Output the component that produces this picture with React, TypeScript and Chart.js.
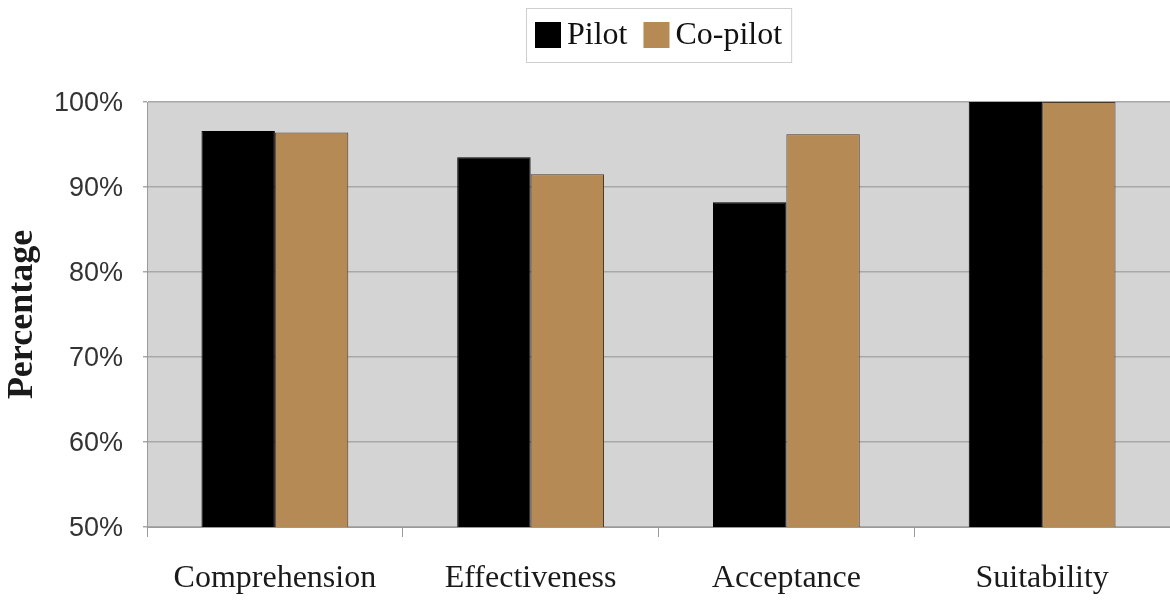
import React, { useEffect, useRef } from "react";
import { Chart, registerables } from "chart.js";

Chart.register(...registerables);

// Survey categories and the share of positive answers per crew role
const categories = ["Comprehension", "Effectiveness", "Acceptance", "Suitability"];
const pilotValues = [96.6, 93.5, 88.2, 100];
const copilotValues = [96.4, 91.5, 96.2, 100];
const seriesNames = ["Pilot", "Co-pilot"];
const yTicks = [50, 60, 70, 80, 90, 100];

const PILOT_COLOR = "#000000";
const COPILOT_COLOR = "#b58a55";
const SERIF = "'Liberation Serif', 'Times New Roman', serif";
const SANS = "'Liberation Sans', Arial, sans-serif";

// Grey plotting area behind the bars
const plotBackground = {
  id: "plotBackground",
  beforeDraw(chart: any) {
    const { ctx, chartArea } = chart;
    ctx.save();
    ctx.fillStyle = "#d4d4d4";
    ctx.fillRect(chartArea.left, chartArea.top, chartArea.right - chartArea.left, chartArea.bottom - chartArea.top);
    ctx.restore();
  },
};

// Framed legend centred above the plotting area
const framedLegend = {
  id: "framedLegend",
  afterDraw(chart: any) {
    const { ctx, chartArea } = chart;
    const box = 26;
    const gap = 6;
    const itemGap = 16;
    const pad = 9;
    ctx.save();
    ctx.font = `32px ${SERIF}`;
    const items = chart.data.datasets.map((ds: any) => ({
      label: ds.label,
      color: ds.backgroundColor,
      w: ctx.measureText(ds.label).width,
    }));
    const total =
      pad * 2 +
      items.reduce((s: number, it: any) => s + box + gap + it.w, 0) +
      itemGap * (items.length - 1);
    const cx = (chartArea.left + chartArea.right) / 2;
    const left = Math.round(cx - total / 2);
    const top = 8;
    const height = 54;
    ctx.strokeStyle = "#cfcfcf";
    ctx.lineWidth = 1;
    ctx.strokeRect(left + 0.5, top + 0.5, total, height);
    let x = left + pad;
    const midY = top + height / 2;
    items.forEach((it: any) => {
      ctx.fillStyle = it.color;
      ctx.fillRect(x, midY - box / 2, box, box);
      x += box + gap;
      ctx.fillStyle = "#111111";
      ctx.textBaseline = "middle";
      ctx.textAlign = "left";
      ctx.fillText(it.label, x, midY + 1);
      x += it.w + itemGap;
    });
    ctx.restore();
  },
};

export default function App() {
  const canvasRef = useRef<HTMLCanvasElement | null>(null);

  useEffect(() => {
    if (!canvasRef.current) return;
    const chart = new Chart(canvasRef.current, {
      type: "bar",
      data: {
        labels: categories,
        datasets: [
          {
            label: seriesNames[0],
            data: pilotValues,
            backgroundColor: PILOT_COLOR,
            borderColor: "#000000",
            borderWidth: 1,
            barPercentage: 1,
            categoryPercentage: 0.574,
          },
          {
            label: seriesNames[1],
            data: copilotValues,
            backgroundColor: COPILOT_COLOR,
            borderColor: "#4a3a28",
            borderWidth: 1,
            barPercentage: 1,
            categoryPercentage: 0.574,
          },
        ],
      },
      options: {
        responsive: false,
        animation: false,
        layout: { padding: { top: 102, left: 0, right: 0, bottom: 0 } },
        plugins: {
          legend: { display: false },
          tooltip: { enabled: false },
        },
        scales: {
          x: {
            grid: {
              display: true,
              drawOnChartArea: false,
              drawTicks: true,
              tickLength: 10,
              color: "#9a9a9a",
              offset: true,
            },
            border: { display: true, color: "#9a9a9a", width: 1 },
            ticks: {
              padding: 22,
              color: "#1a1a1a",
              font: { family: SERIF, size: 32 },
              maxRotation: 0,
            },
            afterFit(scale: any) {
              scale.height = 79;
            },
          },
          y: {
            min: 50,
            max: 100,
            afterBuildTicks(scale: any) {
              scale.ticks = yTicks.map((v) => ({ value: v }));
            },
            grid: {
              color: "#a8a8a8",
              lineWidth: 1.5,
              tickLength: 4,
              drawTicks: true,
            },
            border: { display: true, color: "#9a9a9a", width: 1 },
            ticks: {
              padding: 20,
              labelOffset: 2,
              color: "#333333",
              font: { family: SANS, size: 27 },
              callback: (v: any) => `${v}%`,
            },
            title: {
              display: true,
              text: "Percentage",
              color: "#1a1a1a",
              font: { family: SERIF, size: 36, weight: "bold" },
              padding: { top: 1, bottom: 1 },
            },
            afterFit(scale: any) {
              scale.width = 147;
            },
          },
        },
      },
      plugins: [plotBackground, framedLegend],
    });
    return () => chart.destroy();
  }, []);

  return (
    <div style={{ position: "fixed", left: 0, top: 0, width: 1170, height: 606, background: "#ffffff" }}>
      <canvas ref={canvasRef} width={1170} height={606} style={{ display: "block" }} />
    </div>
  );
}
